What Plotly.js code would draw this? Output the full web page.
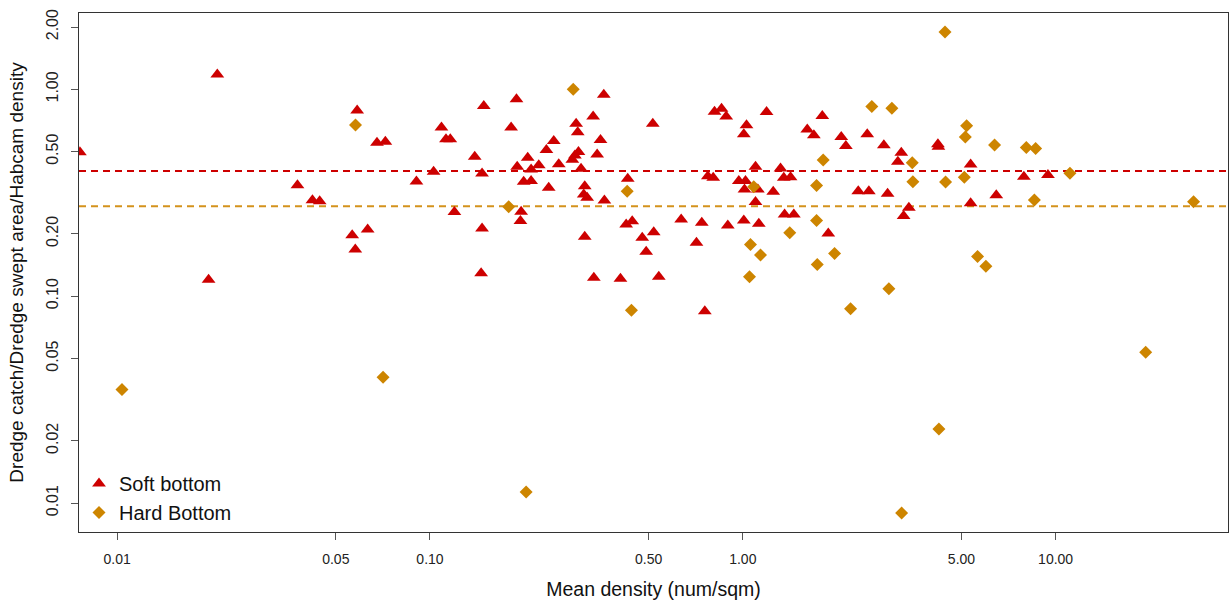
<!DOCTYPE html>
<html>
<head>
<meta charset="utf-8">
<script src="https://cdn.plot.ly/plotly-3.0.1.min.js"></script>
<style>html,body{margin:0;padding:0;background:#fff;}#chart{width:1230px;height:603px;}</style>
</head>
<body>
<div id="chart"></div>
<script>
// Soft bottom points (mean density, ratio)
const softX = [0.0076,0.0209,0.0196,0.0377,0.0421,0.0444,0.0564,0.0577,0.0585,0.0632,
  0.0677,0.0720,0.0905,0.1027,0.1088,0.1125,0.1161,0.1197,0.139,0.1467,
  0.1467,0.1457,0.1486,0.1817,0.189,0.190,0.1956,0.1946,0.1993,0.2053,
  0.2105,0.2105,0.2227,0.2356,0.2396,0.2487,0.258,0.2932,0.2967,0.2983,
  0.2905,0.2852,0.304,0.3124,0.3101,0.318,0.3124,0.334,0.3323,0.3423,
  0.3508,0.3594,0.361,0.4063,0.4238,0.443,0.4287,0.477,0.491,0.5155,
  0.519,0.5388,0.6353,0.711,0.7393,0.756,0.7731,0.8042,0.812,0.855,
  0.885,0.8954,0.971,1.020,1.0125,1.0074,1.0074,1.0276,1.098,1.117,
  1.098,1.125,1.191,1.251,1.320,1.352,1.421,1.36,1.456,1.607,
  1.687,1.795,1.876,2.064,2.135,2.339,2.499,2.529,2.824,2.903,
  3.211,3.131,3.266,3.395,4.204,4.22,5.349,5.349,6.46,7.915,9.45];
const softY = [0.496,1.18,0.120,0.344,0.291,0.288,0.197,0.168,0.791,0.210,
  0.552,0.558,0.358,0.400,0.653,0.573,0.573,0.255,0.4725,0.392,
  0.2126,0.129,0.830,0.653,0.895,0.4227,0.256,0.2307,0.3575,0.467,
  0.410,0.360,0.429,0.5085,0.3345,0.562,0.434,0.682,0.621,0.4984,
  0.4794,0.456,0.4134,0.3404,0.3105,0.299,0.1938,0.1227,0.738,0.4847,
  0.5686,0.942,0.290,0.1214,0.2222,0.2306,0.370,0.1916,0.164,0.682,
  0.204,0.124,0.235,0.1813,0.2265,0.0846,0.3805,0.3738,0.780,0.8066,
  0.738,0.2198,0.360,0.360,0.328,0.2323,0.6057,0.6696,0.4227,0.328,
  0.285,0.2239,0.7765,0.320,0.4148,0.3738,0.3763,0.2484,0.2484,0.640,
  0.599,0.743,0.201,0.5877,0.5318,0.322,0.6057,0.322,0.536,0.3129,
  0.494,0.4468,0.2438,0.2677,0.542,0.528,0.4337,0.281,0.308,0.378,0.385];

// Hard bottom points
const hardX = [0.01036,0.0578,0.0708,0.1785,0.2029,0.287,0.4269,0.4405,1.0505,1.058,
  1.084,1.139,1.413,1.721,1.721,1.73,1.807,1.965,2.21,2.585,
  2.996,2.93,3.218,3.48,3.497,4.235,4.43,4.448,5.106,5.143,
  5.193,5.63,5.985,6.38,8.06,8.63,8.55,11.11,19.4,27.6];
const hardY = [0.0354,0.672,0.0406,0.2707,0.01132,1.00,0.322,0.0855,0.1242,0.178,
  0.3383,0.158,0.2026,0.343,0.2323,0.1423,0.455,0.161,0.0869,0.825,
  0.809,0.1086,0.00895,0.4418,0.3575,0.02283,1.894,0.356,0.3763,0.5877,
  0.667,0.1556,0.1397,0.5377,0.524,0.518,0.2914,0.3924,0.0536,0.2862];

// Mean ratios (dashed reference lines)
const softMean = 0.403;
const hardMean = 0.272;

const xTickVals = [0.01,0.05,0.10,0.50,1.00,5.00,10.00];
const xTickText = ["0.01","0.05","0.10","0.50","1.00","5.00","10.00"];
const yTickVals = [0.01,0.02,0.05,0.10,0.20,0.50,1.00,2.00];
const yTickText = ["0.01","0.02","0.05","0.10","0.20","0.50","1.00","2.00"];

const RED = "#CD0000";
const ORANGE = "#CD8500";
const FONT = "Liberation Sans, Arial, sans-serif";

const traces = [
  {x: softX, y: softY, type: "scatter", mode: "markers", name: "Soft bottom",
   marker: {symbol: "triangle-up", size: 12, color: RED}},
  {x: hardX, y: hardY, type: "scatter", mode: "markers", name: "Hard Bottom",
   marker: {symbol: "diamond", size: 10, color: ORANGE}}
];

const layout = {
  width: 1230, height: 603,
  margin: {l: 79, r: 2, t: 13, b: 71},
  paper_bgcolor: "#fff", plot_bgcolor: "#fff",
  font: {family: FONT, color: "#222"},
  showlegend: true,
  legend: {x: 0, y: 0, xanchor: "left", yanchor: "bottom", bgcolor: "rgba(0,0,0,0)",
           font: {size: 20, color: "#111", family: FONT}, tracegroupgap: 0},
  xaxis: {type: "log", range: [-2.122, 1.551], showgrid: false, zeroline: false,
          tickvals: xTickVals, ticktext: xTickText, ticks: "outside", ticklen: 7,
          tickcolor: "#555", tickfont: {size: 14, color: "#222"},
          showline: true, linecolor: "#333", linewidth: 1, mirror: true,
          ticklabelstandoff: 7,
          title: {text: "Mean density (num/sqm)", font: {size: 19.5, color: "#111"}, standoff: 16}},
  yaxis: {type: "log", range: [-2.140, 0.369], showgrid: false, zeroline: false,
          tickvals: yTickVals, ticktext: yTickText, ticks: "outside", ticklen: 7,
          tickcolor: "#555", tickfont: {size: 16, color: "#222"}, tickangle: -90,
          showline: true, linecolor: "#333", linewidth: 1, mirror: true,
          ticklabelstandoff: 7,
          title: {text: "Dredge catch/Dredge swept area/Habcam density", font: {size: 19, color: "#111"}, standoff: 14}},
  shapes: [
    {type: "line", xref: "paper", x0: 0, x1: 1, yref: "y", y0: softMean, y1: softMean,
     line: {color: RED, width: 2, dash: "7px,5px"}, layer: "below"},
    {type: "line", xref: "paper", x0: 0, x1: 1, yref: "y", y0: hardMean, y1: hardMean,
     line: {color: "#D4921C", width: 2, dash: "7px,5px"}, layer: "below"}
  ]
};

Plotly.newPlot("chart", traces, layout, {displayModeBar: false, staticPlot: true});
</script>
</body>
</html>
